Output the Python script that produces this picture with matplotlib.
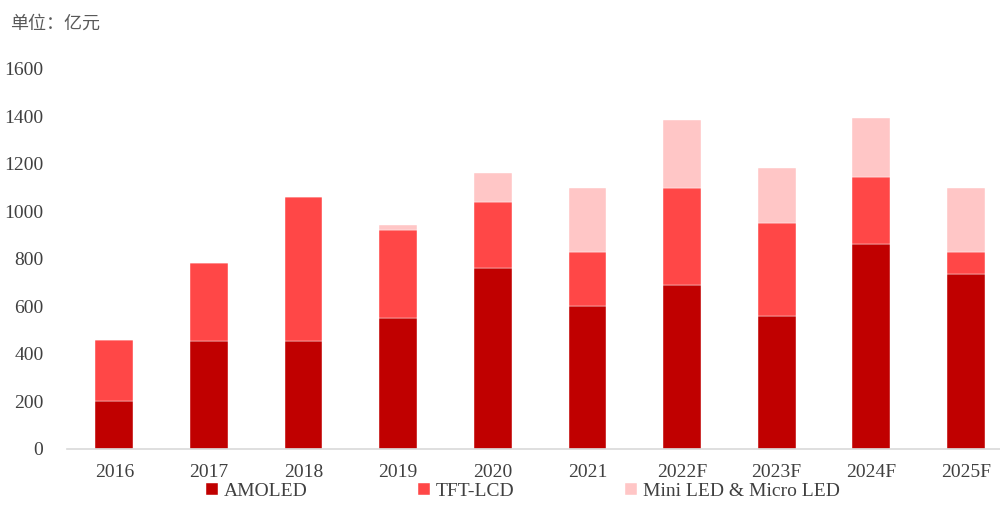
import matplotlib.pyplot as plt
import numpy as np

years = ['2016', '2017', '2018', '2019', '2020', '2021', '2022F', '2023F', '2024F', '2025F']
amoled = [200, 455, 455, 550, 760, 600, 690, 560, 865, 735]
tft_lcd = [260, 330, 605, 370, 280, 230, 410, 390, 280, 95]
mini_micro = [0, 0, 0, 25, 120, 270, 285, 235, 250, 270]

plt.rcParams['font.family'] = ['Liberation Serif', 'Noto Sans CJK SC']

fig = plt.figure(figsize=(10, 5.25), dpi=100)
ax = fig.add_axes([0.067, 0.1448, 0.933, 0.7238])

x = np.arange(len(years))
w = 0.4
b1 = np.array(amoled)
b2 = b1 + np.array(tft_lcd)
ax.bar(x, amoled, w, color='#C00000', label='AMOLED', edgecolor='white', linewidth=0.3)
ax.bar(x, tft_lcd, w, bottom=b1, color='#FF4747', label='TFT-LCD', edgecolor='white', linewidth=0.3)
ax.bar(x, mini_micro, w, bottom=b2, color='#FFC6C6', label='Mini LED & Micro LED', edgecolor='white', linewidth=0.3)

ax.set_ylim(0, 1600)
ax.set_yticks(range(0, 1601, 200))
ax.set_xlim(-0.5, 9.36)
ax.set_xticks(x)
ax.set_xticklabels(years)
for s in ['top', 'right', 'left']:
    ax.spines[s].set_visible(False)
ax.spines['bottom'].set_color('#D9D9D9')
ax.spines['bottom'].set_linewidth(1.2)
ax.tick_params(axis='both', length=0, labelsize=14, colors='#404040')
ax.tick_params(axis='y', pad=17)
ax.tick_params(axis='x', pad=11)

fig.text(0.01, 0.955, '单位：亿元', fontsize=13, color='#595959',
         family=['Noto Sans CJK SC'], va='center', ha='left')

fig.legend(loc='lower center', bbox_to_anchor=(0.523, 0.014), ncol=3, frameon=False,
           fontsize=14, handlelength=0.6, handleheight=0.6, handletextpad=0.3,
           columnspacing=5.7, labelcolor='#404040')

fig.savefig('out.png', dpi=100)
